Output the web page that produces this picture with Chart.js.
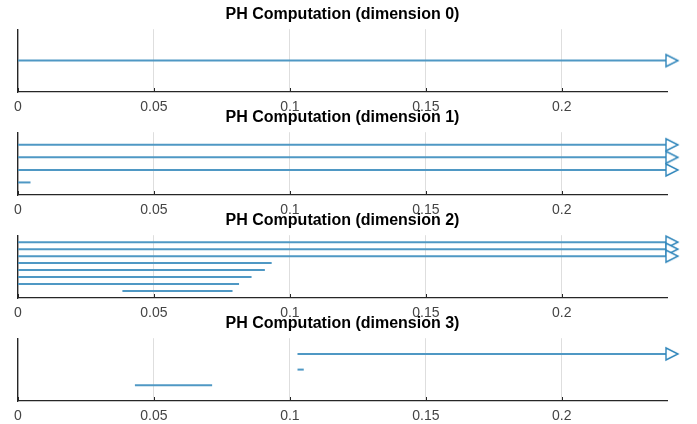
<!DOCTYPE html>
<html>
<head>
<meta charset="utf-8">
<script src="https://cdn.jsdelivr.net/npm/chart.js@4.4.0/dist/chart.umd.min.js"></script>
<style>
  html, body { margin: 0; padding: 0; background: #fff; overflow: hidden; }
  body { width: 697px; height: 424px; position: relative; }
  .panel { position: absolute; left: 0; width: 697px; height: 120px; }
</style>
</head>
<body>
<div class="panel" style="top:0px"><canvas id="dim0" width="697" height="120"></canvas></div>
<div class="panel" style="top:103px"><canvas id="dim1" width="697" height="120"></canvas></div>
<div class="panel" style="top:206px"><canvas id="dim2" width="697" height="120"></canvas></div>
<div class="panel" style="top:309px"><canvas id="dim3" width="697" height="120"></canvas></div>
<script>
/*global Chart*/

//----------------------------------------------------------------
/* data: one bar per birth/death pair, Infinity = still alive */
//----------------------------------------------------------------
var xTicks = [0, 0.05, 0.1, 0.15, 0.2];
var xMax = 0.2387;

var dim0Birth = [0];
var dim0Death = [Infinity];

var dim1Birth = [0, 0, 0, 0];
var dim1Death = [0.0046, Infinity, Infinity, Infinity];

var dim2Birth = [0.0384, 0, 0, 0, 0, 0, 0, 0];
var dim2Death = [0.0789, 0.0813, 0.0859, 0.0908, 0.0933, Infinity, Infinity, Infinity];

var dim3Birth = [0.0430, 0.1028, 0.1028];
var dim3Death = [0.0714, 0.1051, Infinity];

var titles = [
    "PH Computation (dimension 0)",
    "PH Computation (dimension 1)",
    "PH Computation (dimension 2)",
    "PH Computation (dimension 3)"
];

var lineColor = "#4f98c4";
var arrowColor = "#2f86bb";
var axisColor = "#262626";

// open arrow head, drawn a bit right of the end point like matlab's '>' marker
var arrow = document.createElement("canvas");
arrow.width = 26;
arrow.height = 16;
(function() {
    var a = arrow.getContext("2d");
    a.fillStyle = "#fff";
    a.strokeStyle = arrowColor;
    a.lineWidth = 1.4;
    a.beginPath();
    a.moveTo(12, 2);
    a.lineTo(24, 8);
    a.lineTo(12, 14);
    a.closePath();
    a.fill();
    a.stroke();
})();

// little inward tick marks on the bottom axis
var innerTicks = {
    id: "innerTicks",
    afterDatasetsDraw: function(chart) {
        var x = chart.scales.x, area = chart.chartArea, c = chart.ctx;
        c.save();
        c.strokeStyle = axisColor;
        c.lineWidth = 1;
        xTicks.forEach(function(t) {
            var px = Math.round(x.getPixelForValue(t)) + 0.5;
            c.beginPath();
            c.moveTo(px, area.bottom);
            c.lineTo(px, area.bottom - 4);
            c.stroke();
        });
        c.restore();
    }
};

function makePanel(id, title, births, deaths) {
    var datasets = births.map(function(b, i) {
        var alive = deaths[i] === Infinity;
        var d = alive ? xMax : deaths[i];
        return {
            data: [{x: b, y: i + 1}, {x: d, y: i + 1}],
            borderColor: lineColor,
            borderWidth: 2,
            pointRadius: alive ? [0, 6] : 0,
            pointStyle: arrow,
            clip: false,
            fill: false
        };
    });

    var ctx = document.getElementById(id).getContext("2d");
    new Chart(ctx, {
        type: "line",
        data: {datasets: datasets},
        plugins: [innerTicks],
        options: {
            responsive: false,
            animation: false,
            layout: {padding: {left: 18, right: 30, top: 0, bottom: 0}},
            plugins: {
                legend: {display: false},
                tooltip: {enabled: false},
                title: {
                    display: true,
                    text: title,
                    color: "#000",
                    font: {family: "'Liberation Sans', Arial, sans-serif", size: 16, weight: "bold"},
                    padding: {top: 5, bottom: 5}
                }
            },
            scales: {
                x: {
                    type: "linear",
                    min: 0,
                    max: xMax,
                    afterBuildTicks: function(s) {
                        s.ticks = xTicks.map(function(v) { return {value: v}; });
                    },
                    afterFit: function(s) { s.height = 28; },
                    grid: {color: "#dedede", lineWidth: 1, drawTicks: false},
                    border: {color: axisColor, width: 1.3},
                    ticks: {
                        padding: 7,
                        color: "#444",
                        font: {family: "'Liberation Sans', Arial, sans-serif", size: 14},
                        callback: function(v) { return String(+v.toFixed(2)); }
                    }
                },
                y: {
                    type: "linear",
                    min: 0,
                    max: births.length + 1,
                    afterFit: function(s) { s.width = 0; },
                    grid: {display: false, drawTicks: false},
                    border: {color: axisColor, width: 1.3},
                    ticks: {display: false}
                }
            }
        }
    });
}

makePanel("dim0", titles[0], dim0Birth, dim0Death);
makePanel("dim1", titles[1], dim1Birth, dim1Death);
makePanel("dim2", titles[2], dim2Birth, dim2Death);
makePanel("dim3", titles[3], dim3Birth, dim3Death);
</script>
</body>
</html>
